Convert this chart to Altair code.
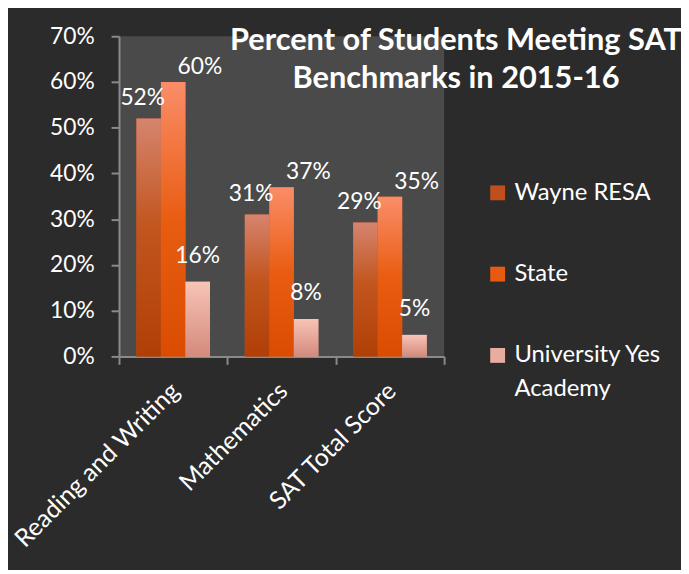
import altair as alt
import pandas as pd

categories = ["Reading and Writing", "Mathematics", "SAT Total Score"]
series = ["Wayne RESA", "State", "University Yes Academy"]
wayne_resa = [0.52, 0.31, 0.293]
state = [0.60, 0.37, 0.349]
university_yes = [0.163, 0.082, 0.047]
y_ticks = [0, 0.1, 0.2, 0.3, 0.4, 0.5, 0.6, 0.7]
title_lines = ["Percent of Students Meeting SAT", "Benchmarks in 2015-16"]

rows = []
for name, vals in zip(series, [wayne_resa, state, university_yes]):
    for c, v in zip(categories, vals):
        rows.append({"category": c, "series": name, "value": v})
df = pd.DataFrame(rows)

FONT = "Lato"
flat_colors = ["#bf4f1e", "#e65a12", "#e6ada0"]
gradients = {
    "Wayne RESA": [("#d6846f", 0.0), ("#c2561f", 0.45), ("#b03f06", 1.0)],
    "State": [("#fa8d69", 0.0), ("#e95d12", 0.5), ("#d94c02", 1.0)],
    "University Yes Academy": [("#f7c4b6", 0.0), ("#d48a7c", 1.0)],
}
label_shift = {  # (dx, dy) per series
    "Wayne RESA": (-6, -14),
    "State": (27, -8),
    "University Yes Academy": (0, -19),
}

x_enc = alt.X(
    "category:N",
    sort=categories,
    scale=alt.Scale(paddingInner=0, paddingOuter=0),
    axis=alt.Axis(
        title=None,
        labelAngle=-45,
        labelAlign="right",
        labelBaseline="top",
        labelPadding=14,
        labelOffset=-7,
        labelLimit=400,
        labelFontSize=25,
        tickBand="extent",
        tickSize=8,
    ),
)
xo_enc = alt.XOffset(
    "series:N",
    sort=series,
    scale=alt.Scale(domain=series, paddingInner=0, paddingOuter=0.71),
)
y_enc = alt.Y(
    "value:Q",
    scale=alt.Scale(domain=[0, 0.7], nice=False),
    axis=alt.Axis(
        title=None,
        format=".0%",
        values=y_ticks,
        tickSize=8,
        labelPadding=17,
        labelFontSize=23,
    ),
)

base = alt.Chart(df)

legend_bars = base.mark_bar().encode(
    x=x_enc,
    xOffset=xo_enc,
    y=y_enc,
    color=alt.Color(
        "series:N",
        sort=series,
        scale=alt.Scale(domain=series, range=flat_colors),
        legend=alt.Legend(
            title=None,
            orient="none",
            legendX=370,
            legendY=146,
            symbolType="square",
            symbolSize=225,
            symbolStrokeWidth=0,
            labelFont=FONT,
            labelFontSize=24,
            labelColor="white",
            labelOffset=5,
            labelLimit=400,
            rowPadding=58,
            labelExpr="datum.label == 'University Yes Academy' ? ['University Yes', 'Academy'] : datum.label",
        ),
    ),
)

layers = [legend_bars]
for name in series:
    stops = [alt.GradientStop(color=c, offset=o) for c, o in gradients[name]]
    grad = alt.Gradient(gradient="linear", x1=0, y1=0, x2=0, y2=1, stops=stops)
    layers.append(
        base.transform_filter(alt.datum.series == name)
        .mark_bar(fill=grad, strokeWidth=0)
        .encode(x=x_enc, xOffset=xo_enc, y=y_enc)
    )
for name in series:
    dx, dy = label_shift[name]
    layers.append(
        base.transform_filter(alt.datum.series == name)
        .mark_text(
            font=FONT, fontSize=23, color="white", baseline="alphabetic",
            align="center", dx=dx, dy=dy,
        )
        .encode(
            x=x_enc, xOffset=xo_enc, y=y_enc,
            text=alt.Text("value:Q", format=".0%"),
        )
    )

chart = (
    alt.layer(*layers)
    .properties(
        width=328,
        height=323,
        autosize=alt.AutoSizeParams(type="none"),
        padding={"left": 112, "top": 26, "right": 239, "bottom": 213},
        title=alt.Title(
            title_lines,
            font=FONT,
            fontSize=31,
            fontWeight="bold",
            color="white",
            anchor="middle",
            frame="group",
            baseline="top",
            offset=0,
            dx=176,
            dy=70,
            lineHeight=38,
        ),
    )
    .configure(
        background="#2b2b2b",
        style={"guide-label": {"lineHeight": 34}},
    )
    .configure_view(fill="#4a4a4a", strokeWidth=0)
    .configure_axis(
        labelFont=FONT,
        labelColor="white",
        domainColor="#8a8a8a",
        tickColor="#8a8a8a",
        domainWidth=2,
        tickWidth=2,
        grid=False,
    )
)

chart.save("out.html", embed_options={"renderer": "svg", "actions": False})
